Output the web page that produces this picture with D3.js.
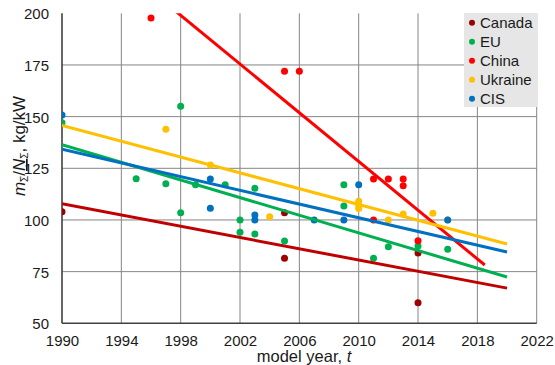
<!DOCTYPE html>
<html>
<head>
<meta charset="utf-8">
<style>
    body { margin: 0; background: #fff; }
    svg { display: block; font-family: 'Liberation Sans', Arial, sans-serif; }
    .tick text { font-size: 15px; fill: #1a1a1a; }
</style>
</head>
<body>
<svg width="555" height="365"></svg>

<script src="https://d3js.org/d3.v7.min.js"></script>
<script>
    // series
    const seriesNames = ["Canada", "EU", "China", "Ukraine", "CIS"]
    const dotColors = ["#9c0000", "#00b050", "#ff0000", "#ffc000", "#0070c0"]
    const lineColors = ["#c00000", "#00b050", "#ff0000", "#ffc000", "#0070c0"]

    const canadaYears = [1990, 2005, 2005, 2014, 2014]
    const canadaValues = [104, 103.5, 81.5, 84, 60]

    const euYears = [1990, 1995, 1997, 1998, 1998, 1999, 2001, 2002, 2002, 2003, 2003, 2005, 2009, 2009, 2011, 2012, 2014, 2016]
    const euValues = [147, 120, 117.5, 155, 103.5, 117, 117, 100, 94, 115.3, 93.2, 89.8, 117, 106.8, 81.5, 87, 87.4, 85.8]

    const chinaYears = [1996, 2005, 2006, 2011, 2011, 2012, 2013, 2013, 2014]
    const chinaValues = [197.7, 172, 172, 119.8, 100, 119.8, 119.8, 116.6, 90]

    const ukraineYears = [1997, 2000, 2004, 2010, 2010, 2010, 2012, 2013, 2015, 2016]
    const ukraineValues = [143.9, 126.6, 101.6, 109, 107, 105.5, 100, 102.9, 103.2, 100]

    const cisYears = [1990, 2000, 2000, 2003, 2003, 2007, 2009, 2010, 2016]
    const cisValues = [150.8, 119.8, 105.7, 102.4, 100, 100, 100, 117, 100]

    // linear trend lines span these years
    const trendStart = [1990, 1990, 1990, 1990, 1990]
    const trendEnd = [2020, 2020, 2018.5, 2020, 2020]

    const xTicks = [1990, 1994, 1998, 2002, 2006, 2010, 2014, 2018, 2022]
    const yTicks = [50, 75, 100, 125, 150, 175, 200]

    const allYears = [canadaYears, euYears, chinaYears, ukraineYears, cisYears]
    const allValues = [canadaValues, euValues, chinaValues, ukraineValues, cisValues]

    let series = seriesNames.map((name, i) => ({
        name: name,
        dot: dotColors[i],
        line: lineColors[i],
        points: allYears[i].map((yr, j) => ({ x: yr, y: allValues[i][j] })),
        from: trendStart[i],
        to: trendEnd[i]
    }))

    let width = 555
    let height = 365
    let margin = { top: 13.3, right: 18.3, bottom: 41.7, left: 62 }

    let svg = d3.select("svg")

    let x = d3.scaleLinear()
        .domain([1990, 2022])
        .range([margin.left, width - margin.right])

    let y = d3.scaleLinear()
        .domain([50, 200])
        .range([height - margin.bottom, margin.top])

    svg.append("clipPath")
        .attr("id", "plot")
        .append("rect")
        .attr("x", margin.left)
        .attr("y", margin.top)
        .attr("width", x(2022) - x(1990))
        .attr("height", y(50) - y(200))

    // grid
    svg.append("g")
        .selectAll("line")
        .data(xTicks.filter(d => d > 1990))
        .join("line")
        .attr("x1", d => x(d))
        .attr("x2", d => x(d))
        .attr("y1", y(200))
        .attr("y2", y(50))
        .style("stroke", "#858585")
        .style("stroke-width", 1)

    svg.append("g")
        .selectAll("line")
        .data(yTicks.filter(d => d > 50 && d < 200))
        .join("line")
        .attr("x1", x(1990))
        .attr("x2", x(2022))
        .attr("y1", d => y(d))
        .attr("y2", d => y(d))
        .style("stroke", "#858585")
        .style("stroke-width", 1)

    // axes
    let xAxis = svg.append("g")
        .attr("transform", `translate(0,${y(50)})`)
        .call(d3.axisBottom(x).tickValues(xTicks).tickFormat(d3.format("d")).tickSize(0).tickPadding(12.2))
    xAxis.select(".domain").remove()

    let yAxis = svg.append("g")
        .attr("transform", `translate(${x(1990)},0)`)
        .call(d3.axisLeft(y).tickValues(yTicks).tickSize(0).tickPadding(13))
    yAxis.select(".domain").remove()
    yAxis.selectAll(".tick text").attr("dy", "0.36em")

    svg.append("line")
        .attr("x1", x(1990)).attr("x2", x(1990))
        .attr("y1", y(200)).attr("y2", y(50))
        .style("stroke", "#404040").style("stroke-width", 1.6)

    svg.append("line")
        .attr("x1", x(1990)).attr("x2", x(2022))
        .attr("y1", y(50)).attr("y2", y(50))
        .style("stroke", "#404040").style("stroke-width", 1.6)

    // dots
    let plot = svg.append("g").attr("clip-path", "url(#plot)")

    series.forEach(s => {
        plot.append("g")
            .selectAll("circle")
            .data(s.points)
            .join("circle")
            .attr("cx", d => x(d.x))
            .attr("cy", d => y(d.y))
            .attr("r", 3.5)
            .style("fill", s.dot)
    })

    // least-squares trend lines, like the spreadsheet does
    function fit(pts) {
        let mx = d3.mean(pts, d => d.x)
        let my = d3.mean(pts, d => d.y)
        let sxy = d3.sum(pts, d => (d.x - mx) * (d.y - my))
        let sxx = d3.sum(pts, d => (d.x - mx) * (d.x - mx))
        let b = sxy / sxx
        return t => my + b * (t - mx)
    }

    let line = d3.line().x(d => x(d[0])).y(d => y(d[1]))

    series.forEach(s => {
        let f = fit(s.points)
        plot.append("path")
            .attr("d", line([[s.from, f(s.from)], [s.to, f(s.to)]]))
            .style("fill", "none")
            .style("stroke", s.line)
            .style("stroke-width", 3)
    })

    // legend
    let legend = svg.append("g")
    legend.append("rect")
        .attr("x", 464).attr("y", 13)
        .attr("width", 73).attr("height", 94)
        .style("fill", "#e6e6e6")

    let items = legend.selectAll(".item")
        .data(series)
        .join("g")
        .attr("class", "item")
        .attr("transform", (d, i) => `translate(472,${22.7 + i * 19})`)

    items.append("circle").attr("r", 3).style("fill", d => d.dot)
    items.append("text")
        .attr("x", 8).attr("y", 5.3)
        .style("font-size", "15px")
        .style("fill", "#1a1a1a")
        .text(d => d.name)

    // axis titles
    let xt = svg.append("text")
        .attr("x", 304).attr("y", 361.5)
        .attr("text-anchor", "middle")
        .style("font-size", "16.5px")
        .style("fill", "#1a1a1a")
    xt.append("tspan").text("model year, ")
    xt.append("tspan").style("font-style", "italic").text("t")

    let yt = svg.append("text")
        .attr("transform", "translate(25,146) rotate(-90)")
        .attr("text-anchor", "middle")
        .style("font-size", "17px")
        .style("fill", "#1a1a1a")
    yt.append("tspan").style("font-style", "italic").text("m")
    yt.append("tspan").attr("dy", 3).style("font-size", "10px").text("Σ")
    yt.append("tspan").attr("dy", -3).text("/")
    yt.append("tspan").style("font-style", "italic").style("text-decoration", "underline").text("N")
    yt.append("tspan").attr("dy", 3).style("font-size", "10px").text("Σ")
    yt.append("tspan").attr("dy", -3).text(", kg/kW")
</script>
</body>
</html>
